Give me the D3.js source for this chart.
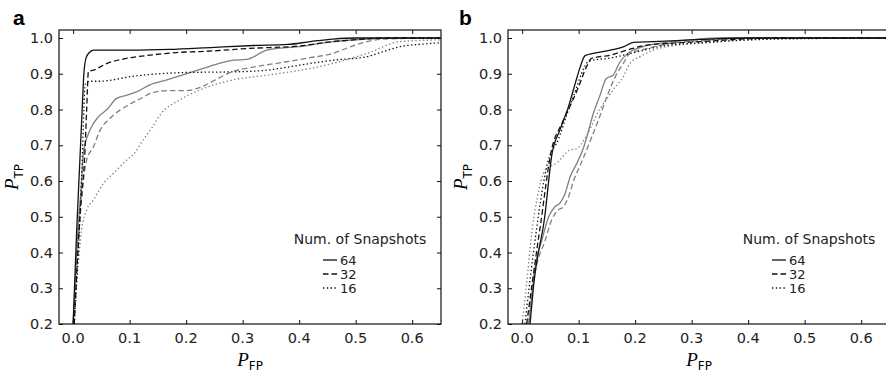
<!DOCTYPE html>
<html>
<head>
  <meta charset="utf-8">
  <title>ROC curves</title>
  <script src="https://d3js.org/d3.v7.min.js"></script>
  <style>
    body { margin: 0; background: #fff; }
    svg { display: block; }
    .tick-label { font-family: 'DejaVu Sans', sans-serif; font-size: 14.5px; fill: #222; }
    .legend text { font-family: 'DejaVu Sans', sans-serif; font-size: 14px; fill: #222; }
    .legend .entry { font-size: 13px; }
    .panel-label { font-family: 'Liberation Sans', Arial, sans-serif; font-weight: bold; font-size: 21px; }
    .axis-label .sym { font-family: 'Liberation Serif', serif; font-style: italic; font-size: 19px; }
    .axis-label .sub { font-family: 'DejaVu Sans', sans-serif; font-size: 12px; }
  </style>
</head>
<body>
<div id="chart"></div>
<script>
// tick labels
var xTicks = [0.0, 0.1, 0.2, 0.3, 0.4, 0.5, 0.6];
var yTicks = [0.2, 0.3, 0.4, 0.5, 0.6, 0.7, 0.8, 0.9, 1.0];
var legendTitle = "Num. of Snapshots";
var snapshots = ["64", "32", "16"];

// panel a: P_FP / P_TP for each snapshot count, black and grey curve sets
var aFp64  = [0.0, 0.006, 0.012, 0.016, 0.019, 0.023, 0.028, 0.036, 0.10, 0.17, 0.25, 0.32, 0.38, 0.42, 0.46, 0.50, 0.65];
var aTp64  = [0.2, 0.45, 0.66, 0.80, 0.90, 0.945, 0.958, 0.966, 0.966, 0.968, 0.974, 0.979, 0.982, 0.990, 0.997, 1.0, 1.0];
var aFp32  = [0.002, 0.012, 0.021, 0.024, 0.027, 0.036, 0.06, 0.095, 0.136, 0.189, 0.225, 0.313, 0.402, 0.46, 0.508, 0.55, 0.65];
var aTp32  = [0.2, 0.5, 0.687, 0.80, 0.906, 0.91, 0.929, 0.943, 0.952, 0.96, 0.962, 0.971, 0.978, 0.99, 0.996, 1.0, 1.0];
var aFp16  = [0.002, 0.012, 0.016, 0.019, 0.021, 0.03, 0.047, 0.106, 0.189, 0.30, 0.343, 0.40, 0.46, 0.52, 0.549, 0.579, 0.62, 0.65];
var aTp16  = [0.2, 0.5, 0.65, 0.80, 0.87, 0.879, 0.879, 0.893, 0.903, 0.906, 0.91, 0.924, 0.938, 0.948, 0.962, 0.976, 0.983, 0.987];
var aFp64g = [0.0, 0.008, 0.015, 0.018, 0.03, 0.045, 0.06, 0.077, 0.095, 0.113, 0.136, 0.166, 0.207, 0.25, 0.284, 0.307, 0.343, 0.40, 0.46, 0.52, 0.56, 0.65];
var aTp64g = [0.2, 0.45, 0.60, 0.677, 0.743, 0.78, 0.80, 0.831, 0.84, 0.85, 0.869, 0.883, 0.903, 0.925, 0.938, 0.94, 0.966, 0.976, 0.99, 0.997, 1.0, 1.0];
var aFp32g = [0.0, 0.01, 0.018, 0.024, 0.036, 0.048, 0.065, 0.095, 0.119, 0.142, 0.17, 0.20, 0.225, 0.26, 0.28, 0.313, 0.372, 0.42, 0.46, 0.49, 0.52, 0.55, 0.65];
var aTp32g = [0.2, 0.45, 0.60, 0.659, 0.696, 0.743, 0.775, 0.81, 0.83, 0.848, 0.853, 0.853, 0.862, 0.89, 0.905, 0.917, 0.932, 0.945, 0.957, 0.975, 0.99, 0.997, 1.0];
var aFp16g = [0.0, 0.008, 0.015, 0.024, 0.036, 0.054, 0.071, 0.095, 0.107, 0.124, 0.14, 0.154, 0.189, 0.225, 0.284, 0.343, 0.402, 0.46, 0.52, 0.579, 0.65];
var aTp16g = [0.2, 0.35, 0.463, 0.519, 0.547, 0.594, 0.621, 0.659, 0.675, 0.715, 0.75, 0.785, 0.827, 0.855, 0.883, 0.896, 0.91, 0.929, 0.957, 0.99, 0.995];

// panel b
var bFp64  = [0.014, 0.02, 0.04, 0.053, 0.067, 0.082, 0.094, 0.103, 0.111, 0.126, 0.156, 0.18, 0.197, 0.232, 0.315, 0.40, 0.65];
var bTp64  = [0.2, 0.304, 0.5, 0.677, 0.743, 0.808, 0.873, 0.92, 0.95, 0.957, 0.966, 0.976, 0.988, 0.99, 0.996, 1.0, 1.0];
var bFp32  = [0.008, 0.026, 0.032, 0.052, 0.07, 0.085, 0.10, 0.114, 0.123, 0.156, 0.185, 0.22, 0.262, 0.315, 0.45, 0.65];
var bTp32  = [0.2, 0.407, 0.472, 0.687, 0.76, 0.81, 0.864, 0.92, 0.943, 0.952, 0.966, 0.98, 0.985, 0.99, 1.0, 1.0];
var bFp16  = [0.005, 0.02, 0.045, 0.065, 0.08, 0.095, 0.105, 0.118, 0.16, 0.20, 0.25, 0.30, 0.45, 0.65];
var bTp16  = [0.2, 0.40, 0.65, 0.72, 0.79, 0.855, 0.90, 0.935, 0.945, 0.96, 0.978, 0.985, 0.997, 1.0];
var bFp64g = [0.012, 0.023, 0.035, 0.047, 0.058, 0.067, 0.076, 0.085, 0.097, 0.108, 0.113, 0.126, 0.137, 0.149, 0.161, 0.172, 0.187, 0.214, 0.243, 0.30, 0.35, 0.65];
var bTp64g = [0.2, 0.36, 0.435, 0.50, 0.528, 0.538, 0.565, 0.612, 0.65, 0.69, 0.715, 0.789, 0.836, 0.887, 0.896, 0.93, 0.957, 0.976, 0.985, 0.995, 1.0, 1.0];
var bFp32g = [0.010, 0.025, 0.04, 0.052, 0.063, 0.073, 0.082, 0.092, 0.103, 0.115, 0.125, 0.135, 0.15, 0.165, 0.179, 0.191, 0.22, 0.262, 0.32, 0.40, 0.65];
var bTp32g = [0.2, 0.36, 0.43, 0.49, 0.518, 0.528, 0.555, 0.605, 0.645, 0.69, 0.73, 0.77, 0.836, 0.892, 0.929, 0.957, 0.97, 0.985, 0.993, 1.0, 1.0];
var bFp16g = [0.0, 0.008, 0.017, 0.026, 0.041, 0.061, 0.085, 0.096, 0.113, 0.137, 0.15, 0.161, 0.179, 0.191, 0.209, 0.232, 0.274, 0.315, 0.40, 0.50, 0.65];
var bTp16g = [0.2, 0.314, 0.454, 0.547, 0.631, 0.65, 0.687, 0.69, 0.724, 0.80, 0.83, 0.855, 0.892, 0.929, 0.948, 0.966, 0.98, 0.985, 0.995, 1.0, 1.0];

var W = 886, H = 371;
var black = "#111", grey = "#808080";
var dash = {"64": null, "32": "5.5,3", "16": "1.4,2.4"};

function curve(fp, tp, snap, color) {
  return { pts: fp.map(function(d, i) { return [d, tp[i]]; }), snap: snap, color: color };
}

var panels = [
  { id: "a", left: 59, right: 441, top: 30, bottom: 324, labelX: 13,
    curves: [curve(aFp64g, aTp64g, "64", grey), curve(aFp32g, aTp32g, "32", grey), curve(aFp16g, aTp16g, "16", grey),
             curve(aFp16, aTp16, "16", black), curve(aFp32, aTp32, "32", black), curve(aFp64, aTp64, "64", black)] },
  { id: "b", left: 508, right: 890, top: 30, bottom: 324, labelX: 459,
    curves: [curve(bFp64g, bTp64g, "64", grey), curve(bFp32g, bTp32g, "32", grey), curve(bFp16g, bTp16g, "16", grey),
             curve(bFp16, bTp16, "16", black), curve(bFp32, bTp32, "32", black), curve(bFp64, bTp64, "64", black)] }
];

var svg = d3.select("#chart").append("svg")
  .attr("width", W)
  .attr("height", H);

panels.forEach(function(p) {
  var x = d3.scaleLinear().domain([-0.025, 0.651]).range([p.left, p.right]);
  var y = d3.scaleLinear().domain([0.2, 1.0224]).range([p.bottom, p.top]);
  var g = svg.append("g");

  g.append("clipPath").attr("id", "clip-" + p.id)
    .append("rect")
      .attr("x", p.left).attr("y", p.top)
      .attr("width", p.right - p.left).attr("height", p.bottom - p.top);

  // curves
  var line = d3.line()
    .x(function(d) { return x(d[0]); })
    .y(function(d) { return y(d[1]); })
    .curve(d3.curveMonotoneX);

  g.append("g").attr("clip-path", "url(#clip-" + p.id + ")")
    .selectAll("path")
    .data(p.curves)
    .enter()
    .append("path")
      .attr("d", function(d) { return line(d.pts); })
      .attr("fill", "none")
      .attr("stroke", function(d) { return d.color; })
      .attr("stroke-width", 1.3)
      .attr("stroke-dasharray", function(d) { return dash[d.snap]; });

  // axes, ticks inward on all four sides
  var tl = 4;
  g.append("g").attr("transform", "translate(0," + p.bottom + ")")
    .call(d3.axisBottom(x).tickValues(xTicks).tickSize(-tl).tickFormat(""));
  g.append("g").attr("transform", "translate(0," + p.top + ")")
    .call(d3.axisTop(x).tickValues(xTicks).tickSize(-tl).tickFormat(""));
  g.append("g").attr("transform", "translate(" + p.left + ",0)")
    .call(d3.axisLeft(y).tickValues(yTicks).tickSize(-tl).tickFormat(""));
  g.append("g").attr("transform", "translate(" + p.right + ",0)")
    .call(d3.axisRight(y).tickValues(yTicks).tickSize(-tl).tickFormat(""));
  g.selectAll(".domain").remove();
  g.selectAll(".tick line").attr("stroke", "#111").attr("stroke-width", 1);

  g.append("rect")
    .attr("x", p.left).attr("y", p.top)
    .attr("width", p.right - p.left).attr("height", p.bottom - p.top)
    .attr("fill", "none").attr("stroke", "#111").attr("stroke-width", 1.2);

  // tick labels
  g.selectAll(".xl").data(xTicks).enter().append("text")
    .attr("class", "tick-label")
    .attr("x", function(d) { return x(d); })
    .attr("y", 343)
    .attr("text-anchor", "middle")
    .text(function(d) { return d3.format(".1f")(d); });
  g.selectAll(".yl").data(yTicks).enter().append("text")
    .attr("class", "tick-label")
    .attr("x", p.left - 6)
    .attr("y", function(d) { return y(d) + 5; })
    .attr("text-anchor", "end")
    .text(function(d) { return d3.format(".1f")(d); });

  // axis labels
  var xl = g.append("text").attr("class", "axis-label")
    .attr("x", (p.left + p.right) / 2)
    .attr("y", 366)
    .attr("text-anchor", "middle");
  xl.append("tspan").attr("class", "sym").text("P");
  xl.append("tspan").attr("class", "sub").attr("dy", 4).text("FP");

  var yl = g.append("text").attr("class", "axis-label")
    .attr("transform", "translate(" + (p.left - 41) + "," + ((p.top + p.bottom) / 2) + ") rotate(-90)")
    .attr("text-anchor", "middle");
  yl.append("tspan").attr("class", "sym").text("P");
  yl.append("tspan").attr("class", "sub").attr("dy", 5).text("TP");

  // panel letter
  g.append("text").attr("class", "panel-label")
    .attr("x", p.labelX).attr("y", 25)
    .text(p.id);

  // legend
  var lg = g.append("g").attr("class", "legend");
  var cx = p.right - 81;
  lg.append("text")
    .attr("x", cx).attr("y", 244)
    .attr("text-anchor", "middle")
    .text(legendTitle);
  var items = lg.selectAll(".item").data(snapshots).enter().append("g")
    .attr("transform", function(d, i) { return "translate(0," + (265 + i * 14) + ")"; });
  items.append("line")
    .attr("x1", p.right - 118).attr("x2", p.right - 104)
    .attr("y1", -5).attr("y2", -5)
    .attr("stroke", black).attr("stroke-width", 1.3)
    .attr("stroke-dasharray", function(d) { return dash[d]; });
  items.append("text")
    .attr("class", "entry")
    .attr("x", p.right - 101).attr("y", 0)
    .text(function(d) { return d; });
});
</script>
</body>
</html>
